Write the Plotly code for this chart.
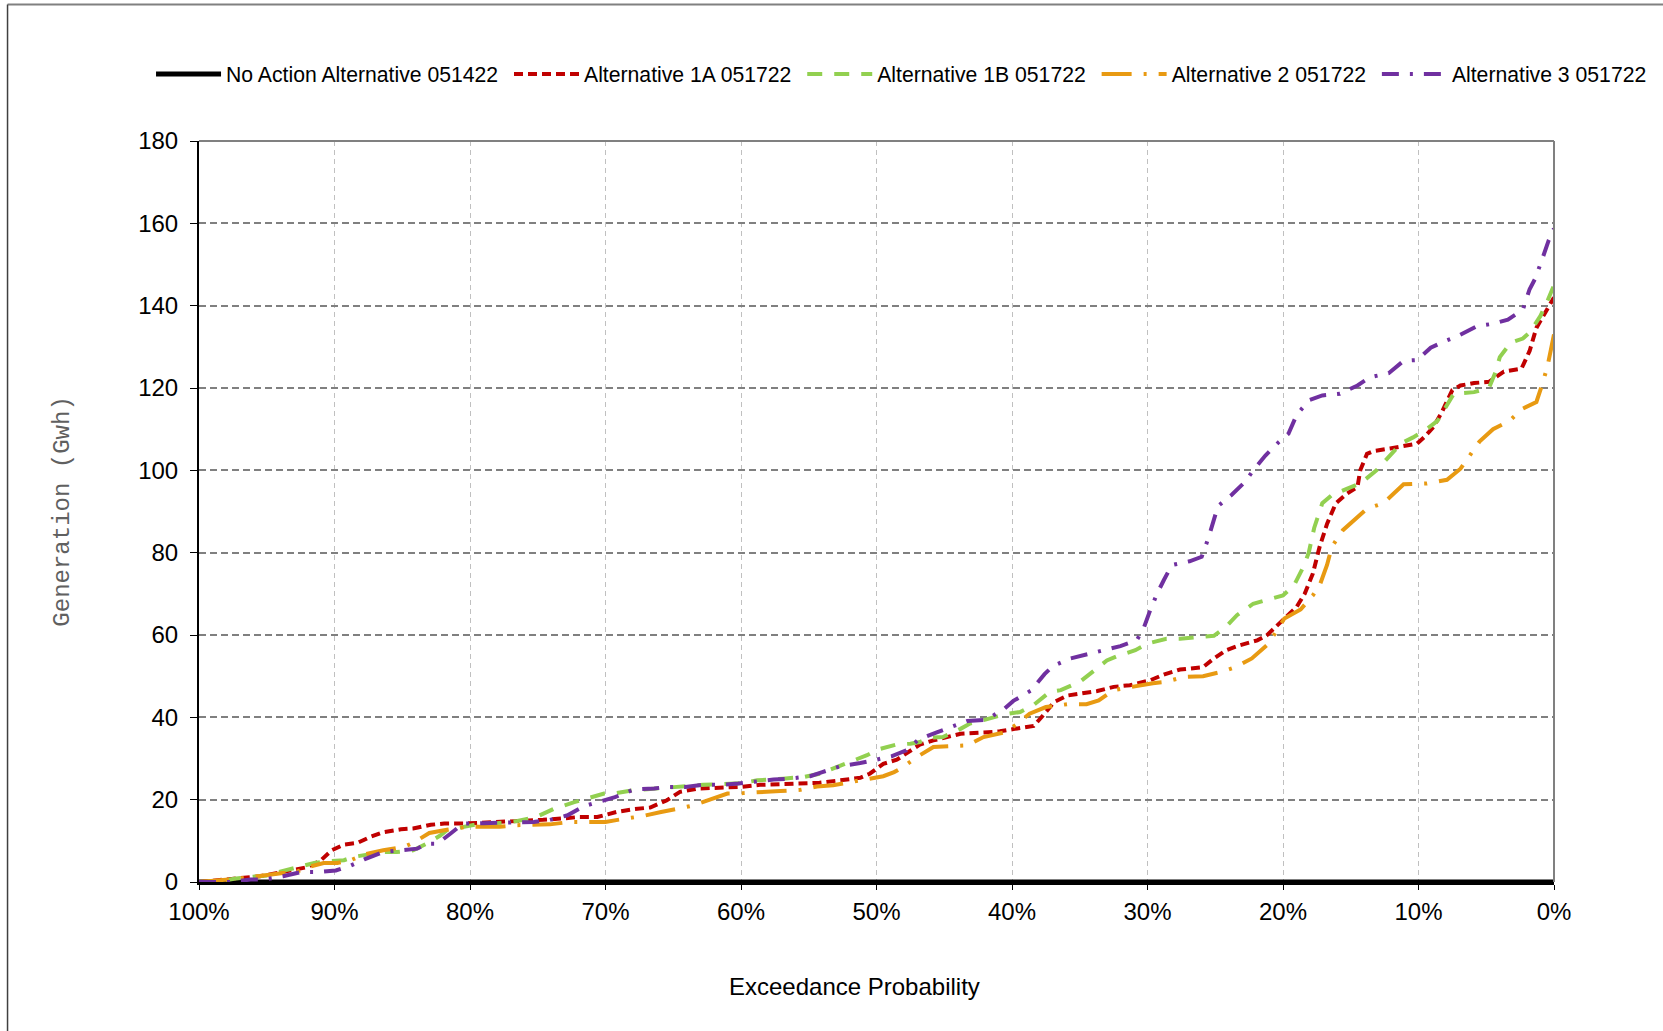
import plotly.graph_objects as go

# ---------------- data (exceedance probability %, generation GWh) ----------------
na_x = [100, 0]
na_y = [0, 0]

a1a_x = [100, 98.7, 97.2, 95.5, 94.2, 93.3, 92, 91, 90.2, 89.3, 88.3, 87.4, 86.4, 85.1, 84.2, 82.9, 81.9, 80.5, 79, 77.5,
         76, 74.6, 73.3, 71.9, 70.6, 69.2, 67.9, 66.7, 65.5, 64.5, 63.2, 61.8, 60, 58.6, 56.9, 55.6, 54.2, 52.7, 51.2, 50.5,
         49.5, 48.5, 47.8, 46.8, 45.8, 44.8, 43.8, 42.1, 40.9, 39.8, 38.4, 37.7, 36.9, 35.9, 35, 33.7, 32.5, 31.3, 29.8, 28.8,
         27.6, 25.9, 25.1, 24.2, 23.2, 21.9, 21.2, 20.5, 19.7, 19.0, 18.4, 17.8, 17.3, 16.75, 16.1, 15.3, 14.5, 14.3, 13.8, 13.3,
         12.1, 10.1, 9.6, 8.9, 8.3, 7.5, 6.9, 5.9, 4.8, 4.3, 3.7, 2.4, 1.8, 1.3, 0.8, 0]
a1a_y = [0, 0.4, 0.8, 1.4, 2.2, 2.8, 3.6, 5.3, 7.7, 9.1, 9.5, 10.9, 12.1, 12.8, 13.0, 13.9, 14.2, 14.2, 14.4, 14.6,
         15.0, 15.1, 15.4, 15.8, 15.8, 17.0, 17.7, 18.1, 19.8, 21.9, 22.7, 22.9, 23.1, 23.6, 23.7, 23.9, 24.1, 24.7, 25.3, 26.3,
         28.7, 29.7, 31.2, 33.4, 34.4, 35.2, 36.0, 36.3, 36.6, 37.2, 37.9, 40.5, 43.7, 45.3, 45.7, 46.4, 47.4, 47.8, 49.0, 50.4,
         51.6, 52.2, 54.3, 56.3, 57.5, 58.7, 59.9, 62.0, 64.4, 66.8, 70.0, 74.9, 81.4, 87, 92, 94.3, 96, 100, 104, 104.7,
         105.3, 106.5, 108, 110.5, 114, 119.5, 120.6, 121.2, 121.5, 122.7, 124, 124.7, 129, 134.6, 137.5, 142]

a1b_x = [100, 98.4, 97.4, 96.2, 95, 93.8, 92.8, 91.5, 90.3, 89.3, 88.6, 87.6, 86.4, 85.4, 84.2, 83.2, 82.2, 81.7, 80.5, 79.5,
         78, 76.5, 75.1, 73.8, 72.3, 71.4, 70.1, 69.2, 67.9, 66.7, 65.5, 64.1, 62.8, 60, 58.8, 56.9, 55.4, 54.2, 52.9, 52.1,
         50.7, 49.9, 48.5, 47.5, 46.8, 46, 45.1, 43.8, 43.1, 41.9, 40.6, 39.4, 38.4, 37.2, 36.4, 35, 34.2, 33, 32.3, 30.9,
         30, 28.6, 27.6, 26.1, 25.1, 24.2, 23.4, 22.2, 21.2, 20, 19.2, 18.5, 18.1, 17.7, 17.1, 16.4, 15.3, 14.3, 13.1, 12.3,
         11.3, 10.4, 9.4, 8.6, 7.9, 7.4, 5.9, 4.8, 4.3, 4.0, 3.2, 2.3, 1.8, 1.0, 0.5, 0]
a1b_y = [0, 0.2, 0.8, 1.2, 1.6, 2.7, 3.5, 4.6, 5.1, 5.3, 6.1, 6.7, 7.3, 7.3, 7.7, 9.3, 11.3, 12.6, 13.4, 14.0,
         14.3, 14.8, 15.8, 17.8, 19.4, 20.2, 21.5, 21.6, 22.3, 22.6, 22.9, 23.1, 23.6, 24.0, 24.7, 25.1, 25.5, 26.3, 27.9, 28.9,
         30.8, 32.2, 33.4, 33.6, 34.0, 35.1, 35.2, 37.2, 38.5, 39.5, 40.7, 41.3, 43.0, 46.2, 46.6, 48.6, 50.6, 53.8, 54.8, 56.3,
         57.9, 59.1, 59.1, 59.5, 59.8, 62.0, 64.8, 67.6, 68.4, 69.6, 72, 76.5, 80, 86, 92, 94, 95.5, 96.8, 100, 103,
         106.5, 108, 110, 112, 116, 118.6, 119, 120, 124, 127.5, 131, 132, 133.5, 137.5, 141, 145]

a2_x = [100, 98.4, 97.2, 96.2, 95, 93.8, 93, 92, 90.8, 89.8, 88.8, 87.8, 86.4, 84.9, 84.2, 83, 81.7, 80.2, 79.2, 77.8,
        76.5, 75.1, 74.1, 72.6, 71.2, 70.0, 68.9, 67.3, 65.9, 64.7, 63.5, 62.3, 61, 59.8, 58.3, 57.1, 55.6, 54.4, 53.2, 51.9,
        50.5, 49.5, 48.7, 48.1, 47, 45.8, 44.6, 43.3, 42.1, 40.6, 39.7, 38.7, 37.5, 35.9, 34.5, 33.6, 32.5, 31, 29.6, 28.7,
        27.3, 25.9, 24.6, 23.5, 22.3, 21.2, 20.6, 19.9, 18.7, 17.8, 17.3, 16.75, 16.4, 15.6, 13.8, 12.6, 11.6, 11.1, 9.4, 7.9,
        6.9, 5.5, 4.5, 3.3, 2.3, 1.3, 0.9, 0.5, 0]
a2_y = [0, 0.4, 0.8, 1.2, 1.6, 2.2, 2.2, 3.6, 4.6, 4.6, 5.3, 6.7, 7.7, 8.5, 9.5, 11.9, 12.7, 13.4, 13.4, 13.4,
        13.8, 14.0, 14.0, 14.6, 14.6, 14.6, 15.2, 16.0, 17.0, 17.8, 18.6, 20.0, 21.5, 21.6, 22.0, 22.1, 22.4, 23.2, 23.5, 24.3,
        25.3, 25.7, 26.7, 27.8, 30.4, 32.8, 33.0, 33.2, 35.2, 36.3, 38.2, 40.9, 42.5, 43.2, 43.2, 44.1, 46.6, 47.5, 48.3, 48.6,
        49.8, 50.0, 51.0, 52.2, 54.3, 57.5, 60.3, 64.0, 66.2, 69.6, 72, 77, 81.4, 85.4, 90.7, 92, 95, 96.6, 96.8, 97.7,
        100.4, 107, 110, 112, 115, 116.6, 120.6, 125, 133]

a3_x = [100, 98.7, 97.6, 96.2, 95.2, 93.8, 92.5, 91.3, 89.9, 88.8, 87.8, 86.4, 84.9, 83.9, 83.2, 82.4, 81.5, 80.5, 79, 77.8,
        76.8, 75.3, 74.1, 72.8, 71.6, 70.1, 69.3, 67.9, 66.4, 65.5, 64.1, 62.8, 61.5, 60.2, 58.8, 57.6, 56.4, 54.9, 54, 52.7,
        51.2, 50.2, 48.9, 47.8, 46.9, 45.6, 44.3, 43.3, 41.9, 40.6, 39.9, 38.6, 37.6, 37, 35.7, 34.3, 33.4, 32, 30.8, 30.3,
        29.8, 29.3, 28.8, 28.2, 26.9, 26, 25.5, 25.1, 24.8, 23.8, 22.8, 22.2, 21.3, 20.3, 19.6, 19, 18.1, 17.1, 15.8, 14.5,
        13.6, 12.2, 11.1, 10.1, 9.1, 7.9, 7.1, 5.7, 4.5, 3.4, 2.3, 1.8, 1.4, 0.9, 0.4, 0]
a3_y = [0, 0, 0, 0.6, 0.6, 1.4, 2.4, 2.4, 2.8, 4.0, 5.5, 7.3, 7.7, 8.1, 9.3, 9.3, 11.6, 14.2, 14.3, 14.4,
        14.4, 14.6, 15.1, 16.2, 18.4, 19.8, 20.6, 22.5, 22.7, 23.1, 23.1, 23.6, 23.6, 23.9, 24.5, 24.9, 25.1, 25.7, 26.7, 28.1,
        28.9, 29.6, 30.5, 32.0, 34.6, 36.3, 37.8, 39.1, 39.4, 42.0, 44.0, 46.5, 50.5, 52.4, 54.3, 55.5, 56.1, 57.3, 58.7, 61.5,
        66, 70, 73.3, 77, 77.9, 79, 83.6, 87.9, 91.3, 94, 97.2, 100, 103.6, 106.9, 108.9, 113.4, 117, 118.2, 118.6, 120.6,
        122.6, 123.6, 126.6, 126.8, 129.8, 131.6, 132.6, 135, 135.6, 136.6, 139, 144, 146.5, 151, 155.8, 158.7]

x_tickvals = [100, 90, 80, 70, 60, 50, 40, 30, 20, 10, 0]
x_ticktext = ["100%", "90%", "80%", "70%", "60%", "50%", "40%", "30%", "20%", "10%", "0%"]
y_tickvals = [0, 20, 40, 60, 80, 100, 120, 140, 160, 180]

names = ["No Action Alternative 051422", "Alternative 1A 051722", "Alternative 1B 051722",
         "Alternative 2 051722", "Alternative 3 051722"]

# ---------------- figure ----------------
FONT = "Liberation Sans, Arial, sans-serif"
NBSP = "\u00a0"
fig = go.Figure()

series = [
    (a1a_x, a1a_y, names[1] + NBSP, "#C00000", "9px,5px", 4),
    (a1b_x, a1b_y, names[2] + NBSP, "#92D050", "15px,12px", 4),
    (a2_x, a2_y, names[3] + NBSP, "#E89A12", "30px,12px,3px,12px", 4),
    (a3_x, a3_y, names[4], "#7030A0", "17px,11px,3px,11px", 4),
]

fig.add_trace(go.Scatter(x=na_x, y=na_y, name=names[0] + NBSP, mode="lines",
                         line=dict(color="black", width=5)))
for xs, ys, nm, col, dash, w in series:
    fig.add_trace(go.Scatter(x=xs, y=ys, name=nm, mode="lines",
                             line=dict(color=col, width=w, dash=dash)))

# plot-area top/right grey borders and outer frame
shapes = [
    dict(type="line", xref="paper", yref="paper", x0=0, x1=1, y0=1, y1=1,
         line=dict(color="#808080", width=2)),
    dict(type="line", xref="paper", yref="paper", x0=1, x1=1, y0=0, y1=1,
         line=dict(color="#808080", width=2)),
    dict(type="line", xref="paper", yref="paper", x0=-0.1413, x1=1.3, y0=1.1842, y1=1.1842,
         line=dict(color="#808080", width=2)),
    dict(type="line", xref="paper", yref="paper", x0=-0.1413, x1=-0.1413, y0=-0.4, y1=1.1842,
         line=dict(color="#404040", width=1.5)),
]

annotations = [
    dict(text="Generation (Gwh)", xref="paper", yref="paper", x=-0.101, y=0.5,
         textangle=-90, showarrow=False, xanchor="center", yanchor="middle",
         font=dict(family="Liberation Mono, Courier New, monospace", size=24, color="#606060")),
    dict(text="Exceedance Probability", xref="paper", yref="paper", x=0.4834, y=-0.1409,
         showarrow=False, xanchor="center", yanchor="middle",
         font=dict(family=FONT, size=24, color="black")),
]

fig.update_layout(
    width=1663, height=1031,
    margin=dict(l=199, r=109, t=141, b=149),
    paper_bgcolor="white", plot_bgcolor="white",
    font=dict(family=FONT, color="black"),
    showlegend=True,
    legend=dict(orientation="h", x=-0.0354, xanchor="left", y=1.09, yanchor="middle",
                font=dict(family=FONT, size=21.2, color="black"),
                itemwidth=65, bgcolor="rgba(0,0,0,0)", traceorder="normal"),
    shapes=shapes,
    annotations=annotations,
    xaxis=dict(range=[100, 0], tickvals=x_tickvals, ticktext=x_ticktext,
               showgrid=True, gridcolor="#C0C0C0", gridwidth=1, griddash="5px,4px",
               showline=True, linecolor="black", linewidth=3,
               ticks="outside", ticklen=5, tickcolor="black", tickwidth=1,
               tickfont=dict(family=FONT, size=24, color="black"),
               ticklabelstandoff=1, zeroline=False),
    yaxis=dict(range=[0, 180], tickvals=y_tickvals,
               showgrid=True, gridcolor="#808080", gridwidth=1.5, griddash="7px,4px",
               showline=True, linecolor="black", linewidth=2,
               ticks="outside", ticklen=7, tickcolor="black", tickwidth=1,
               tickfont=dict(family=FONT, size=24, color="black"),
               ticklabelstandoff=7, zeroline=False),
)

fig.write_html("out.html", config={"displayModeBar": False},
               post_script="document.body.style.margin='0';document.body.style.overflow='hidden';")
